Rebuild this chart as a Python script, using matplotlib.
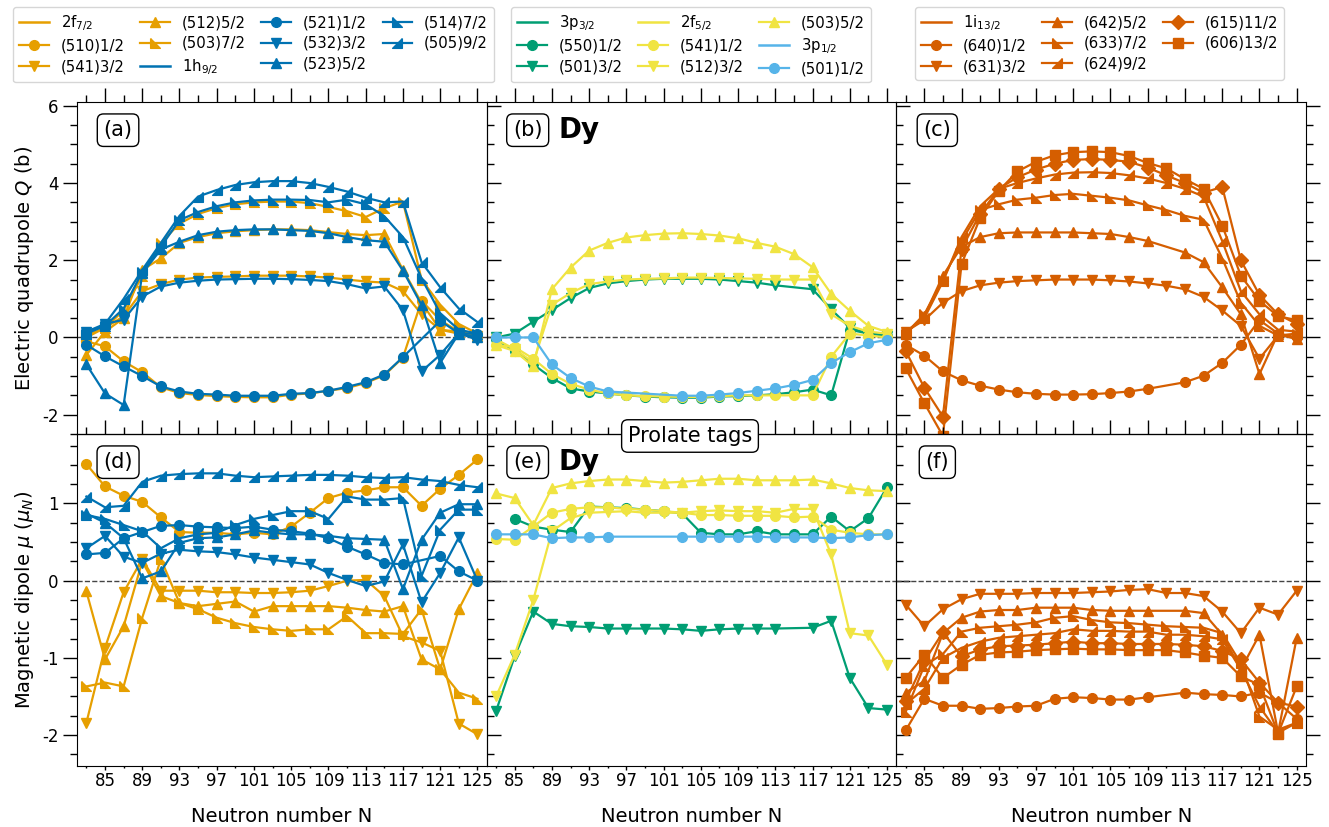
import numpy as np
import matplotlib
matplotlib.use("Agg")
import matplotlib.pyplot as plt
from matplotlib.lines import Line2D
from matplotlib.ticker import FixedLocator, MultipleLocator

plt.rcParams["font.family"] = "DejaVu Sans"
plt.rcParams["axes.unicode_minus"] = False

nan = np.nan
N = list(range(83, 126, 2))

# --- panel (a): quadrupole Q, 2f7/2 and 1h9/2 orbitals ---
q_510_12 = [-0.1, -0.23, -0.62, -0.90, -1.29, -1.44, -1.49, -1.52, -1.54, -1.55, -1.55, -1.48, -1.45, -1.38, -1.31, -1.18, -0.98, -0.52, 0.95, 0.45, 0.15, 0.05]
q_541_32 = [0.05, 0.25, 0.55, 1.2, 1.38, 1.5, 1.55, 1.57, 1.58, 1.6, 1.6, 1.6, 1.58, 1.55, 1.5, 1.45, 1.42, 1.2, 0.6, 0.2, 0.1, 0.05]
q_512_52 = [-0.45, 0.15, 0.5, 1.75, 2.05, 2.45, 2.6, 2.7, 2.75, 2.78, 2.8, 2.8, 2.78, 2.73, 2.68, 2.65, 2.68, 1.75, 0.9, 0.2, 0.15, 0.05]
q_503_72 = [0.0, 0.25, 0.7, 1.6, 2.45, 2.95, 3.2, 3.35, 3.45, 3.5, 3.52, 3.52, 3.48, 3.38, 3.27, 3.12, 3.35, 3.52, 1.5, 0.85, 0.35, 0.1]
q_521_12 = [-0.19, -0.49, -0.75, -1.0, -1.27, -1.4, -1.46, -1.48, -1.51, -1.51, -1.51, -1.46, -1.44, -1.38, -1.28, -1.16, -0.96, -0.51, nan, 0.43, 0.11, 0.09]
q_532_32 = [0.15, 0.35, 0.46, 1.06, 1.32, 1.42, 1.47, 1.5, 1.51, 1.52, 1.52, 1.51, 1.49, 1.46, 1.38, 1.27, 1.32, 0.71, -0.88, -0.45, 0.11, -0.06]
q_523_52 = [-0.7, -1.45, -1.75, 1.66, 2.28, 2.48, 2.65, 2.74, 2.78, 2.8, 2.8, 2.78, 2.76, 2.7, 2.6, 2.52, 2.48, 1.73, 0.84, -0.66, 0.1, 0.0]
q_514_72 = [0.1, 0.3, 0.75, 1.7, 2.35, 3.04, 3.25, 3.4, 3.5, 3.55, 3.57, 3.57, 3.56, 3.5, 3.57, 3.45, 3.14, 2.6, 1.53, 0.63, 0.2, 0.1]
q_505_92 = [0.1, 0.35, 1.0, 1.75, 2.45, 3.15, 3.65, 3.82, 3.95, 4.02, 4.05, 4.05, 4.0, 3.9, 3.78, 3.62, 3.5, 3.52, 1.95, 1.3, 0.75, 0.4]

# --- panel (b): 3p3/2, 2f5/2, 3p1/2 ---
q_550_12 = [-0.05, -0.35, -0.7, -1.05, -1.32, -1.4, -1.45, -1.5, -1.53, -1.55, -1.56, -1.56, -1.53, -1.52, -1.5, -1.47, -1.42, -1.35, -1.5, 0.2, 0.1, 0.05]
q_501_32 = [0.0, 0.1, 0.41, 0.71, 1.02, 1.28, 1.4, 1.46, 1.5, 1.52, 1.52, 1.52, 1.5, 1.46, 1.42, 1.35, nan, 1.25, 0.73, 0.25, 0.1, 0.05]
q_541_12 = [-0.2, -0.25, -0.55, -0.95, -1.2, -1.35, -1.45, -1.5, -1.52, -1.53, -1.54, -1.54, -1.52, -1.5, -1.5, -1.5, -1.5, -1.5, -0.5, 0.1, 0.05, 0.0]
q_512_32 = [-0.05, -0.3, -0.65, 0.85, 1.15, 1.38, 1.45, 1.5, 1.52, 1.53, 1.55, 1.55, 1.54, 1.53, 1.52, 1.5, 1.5, 1.5, 0.6, 0.3, 0.15, 0.1]
q_503_52 = [-0.2, -0.35, -0.75, 1.25, 1.81, 2.25, 2.45, 2.59, 2.65, 2.69, 2.7, 2.68, 2.64, 2.57, 2.45, 2.35, 2.16, 1.82, 1.13, 0.69, 0.3, 0.14]
q_501_12 = [0.0, 0.0, 0.0, -0.7, -1.05, -1.27, -1.4, nan, nan, nan, -1.51, -1.51, -1.48, -1.44, -1.38, -1.32, -1.23, -1.1, -0.66, -0.38, -0.15, -0.06]

# --- panel (c): 1i13/2 ---
q_640_12 = [-0.19, -0.47, -0.88, -1.11, -1.25, -1.35, -1.42, -1.46, -1.48, -1.48, -1.47, -1.44, -1.4, -1.33, nan, -1.16, -0.99, -0.66, -0.19, 0.45, 0.1, 0.0]
q_631_32 = [0.15, 0.45, 0.9, 1.2, 1.35, 1.42, 1.46, 1.48, 1.5, 1.5, 1.5, 1.48, 1.45, 1.4, 1.34, 1.25, 1.05, 0.7, 0.3, -0.55, 0.05, 0.0]
q_642_52 = [0.1, 0.55, 1.6, 2.35, 2.6, 2.7, 2.72, 2.72, 2.72, 2.72, 2.7, 2.68, 2.6, 2.5, nan, 2.2, 1.95, 1.3, 0.6, -0.95, 0.1, -0.05]
q_633_72 = [0.1, 0.6, 1.5, 2.5, 3.3, 3.45, 3.57, 3.62, 3.69, 3.72, 3.67, 3.62, 3.55, 3.42, 3.3, 3.15, 3.05, 2.05, 0.9, 0.3, 0.05, 0.1]
q_624_92 = [0.15, 0.5, 1.45, 2.6, 3.4, 3.85, 4.0, 4.12, 4.22, 4.27, 4.28, 4.26, 4.2, 4.12, 4.0, 3.85, 3.65, 2.5, 1.2, 0.6, 0.2, 0.15]
q_615_112 = [-0.35, -1.3, -2.05, 2.3, 3.2, 3.85, 4.15, 4.35, 4.5, 4.6, 4.62, 4.6, 4.55, 4.4, 4.2, 4.0, 3.75, 3.9, 2.0, 1.1, 0.6, 0.35]
q_606_132 = [-0.8, -1.7, -2.55, 1.9, 3.1, 3.8, 4.3, 4.55, 4.72, 4.8, 4.82, 4.8, 4.7, 4.52, 4.38, 4.1, 3.85, 2.9, 1.6, 0.95, 0.55, 0.45]

# --- panel (d): magnetic moment mu ---
m_510_12 = [1.51, 1.22, 1.10, 1.02, 0.82, 0.63, 0.62, 0.62, 0.6, 0.62, 0.6, 0.7, 0.88, 1.07, 1.14, 1.17, 1.21, 1.21, 0.97, 1.19, 1.37, 1.57]
m_541_32 = [-1.84, -0.87, -0.15, 0.28, -0.13, -0.13, -0.13, -0.15, -0.15, -0.16, -0.16, -0.15, -0.13, -0.07, 0.0, 0.01, -0.2, -0.72, -0.8, -0.91, -1.85, -1.99]
m_512_52 = [-0.14, -1.02, -0.59, 0.25, -0.2, -0.29, -0.33, -0.3, -0.27, -0.4, -0.33, -0.33, -0.33, -0.33, -0.35, -0.38, -0.4, -0.33, -1.02, -1.15, -0.37, 0.1]
m_503_72 = [-1.37, -1.32, -1.37, -0.48, 0.28, -0.29, -0.37, -0.48, -0.55, -0.6, -0.63, -0.65, -0.63, -0.63, -0.46, -0.68, -0.68, -0.69, -0.37, -1.15, -1.45, -1.53]
m_521_12 = [0.34, 0.36, 0.55, 0.63, 0.71, 0.72, 0.7, 0.69, 0.68, 0.7, 0.66, 0.64, 0.61, 0.55, 0.44, 0.34, 0.23, 0.21, nan, 0.32, 0.12, 0.0]
m_532_32 = [0.42, 0.58, 0.31, 0.23, 0.35, 0.4, 0.38, 0.37, 0.34, 0.3, 0.27, 0.24, 0.21, 0.1, 0.01, -0.07, -0.01, 0.47, -0.28, 0.1, 0.56, 0.0]
m_523_52 = [0.87, 0.75, 0.55, 0.03, 0.12, 0.49, 0.55, 0.56, 0.6, 0.65, 0.62, 0.6, 0.6, 0.58, 0.55, 0.54, 0.53, -0.11, 0.53, 0.88, 0.99, 0.99]
m_514_72 = [0.85, 0.8, 0.72, 0.64, 0.42, 0.55, 0.6, 0.62, 0.72, 0.8, 0.85, 0.9, 0.9, 0.8, 1.09, 1.05, 1.05, 1.07, 0.06, 0.66, 0.92, 0.92]
m_505_92 = [1.09, 0.95, 0.97, 1.28, 1.36, 1.38, 1.39, 1.39, 1.36, 1.34, 1.35, 1.36, 1.37, 1.37, 1.36, 1.34, 1.33, 1.34, 1.31, 1.29, 1.24, 1.21]

# --- panel (e) ---
m_550_12 = [nan, 0.8, 0.7, 0.66, 0.63, 0.96, 0.95, 0.94, 0.92, 0.9, 0.87, 0.62, 0.6, 0.6, 0.64, 0.6, 0.6, 0.6, 0.83, 0.64, 0.81, 1.21]
m_501_32 = [-1.69, -0.98, -0.4, -0.56, -0.59, -0.6, -0.62, -0.62, -0.62, -0.62, -0.63, -0.65, -0.63, -0.62, -0.62, -0.62, nan, -0.61, -0.52, -1.26, -1.65, -1.67]
m_541_12 = [0.54, 0.53, 0.7, 0.88, 0.93, 0.95, 0.95, 0.93, 0.92, 0.9, 0.88, 0.85, 0.85, 0.84, 0.84, 0.84, 0.82, 0.83, 0.66, 0.62, 0.6, 0.6]
m_512_32 = [-1.5, -0.96, -0.25, 0.64, 0.81, 0.88, 0.89, 0.9, 0.88, 0.88, 0.88, 0.9, 0.91, 0.9, 0.9, 0.88, 0.93, 0.93, 0.34, -0.68, -0.71, -1.09]
m_503_52 = [1.13, 1.07, 0.72, 1.2, 1.26, 1.29, 1.31, 1.31, 1.29, 1.27, 1.28, 1.3, 1.32, 1.32, 1.3, 1.3, 1.3, 1.31, 1.26, 1.2, 1.17, 1.16]
m_501_12 = [0.6, 0.6, 0.6, 0.55, 0.56, 0.56, 0.57, nan, nan, nan, 0.57, 0.57, 0.57, 0.57, 0.57, 0.56, 0.56, 0.56, 0.55, 0.56, 0.59, 0.6]

# --- panel (f) ---
m_640_12 = [-1.94, -1.53, -1.62, -1.62, -1.66, -1.65, -1.63, -1.62, -1.53, -1.51, -1.52, -1.54, -1.54, -1.51, nan, -1.45, -1.47, -1.48, -1.5, -1.45, -1.58, -1.79]
m_631_32 = [-0.31, -0.59, -0.37, -0.24, -0.17, -0.17, -0.17, -0.16, -0.16, -0.16, -0.15, -0.14, -0.12, -0.11, -0.16, -0.16, -0.2, -0.4, -0.68, -0.35, -0.44, -0.13]
m_642_52 = [-1.45, -1.3, -0.68, -0.48, -0.4, -0.38, -0.38, -0.35, -0.35, -0.35, -0.38, -0.39, -0.39, -0.39, nan, -0.39, -0.42, -0.7, -1.15, -0.7, -1.97, -0.74]
m_633_72 = [-1.7, -1.1, -0.95, -0.66, -0.61, -0.59, -0.57, -0.54, -0.48, -0.46, -0.51, -0.54, -0.55, -0.57, -0.59, -0.6, -0.61, -0.68, -1.07, -1.76, -1.93, -1.84]
m_624_92 = [-1.6, -1.4, -1.0, -0.87, -0.79, -0.74, -0.72, -0.7, -0.68, -0.63, -0.65, -0.65, -0.66, -0.66, -0.7, -0.7, -0.72, -0.76, -1.15, -1.63, -1.97, -1.84]
m_615_112 = [-1.56, -1.04, -0.67, -0.98, -0.89, -0.85, -0.84, -0.83, -0.81, -0.79, -0.81, -0.81, -0.82, -0.82, -0.82, -0.83, -0.85, -0.91, -1.02, -1.32, -1.58, -1.63]
m_606_132 = [-1.26, -0.96, -1.26, -1.09, -0.96, -0.93, -0.92, -0.9, -0.89, -0.88, -0.89, -0.89, -0.9, -0.9, -0.9, -0.93, -0.97, -1.0, -1.24, -1.35, -1.98, -1.37]

ORANGE, BLUE, GREEN = "#E69F00", "#0072B2", "#009E73"
YELLOW, SKY, VERM = "#F0E442", "#56B4E9", "#D55E00"

# right-angled triangles for the 7/2 and 9/2 orbitals
M72 = [(-1, 1), (-1, -1), (1, -1), (-1, 1)]
M92 = [(1, 1), (1, -1), (-1, -1), (1, 1)]

# (label, Q, mu, colour, marker) per column; None values = legend header line
columns = [
    [("2f$_{7/2}$", None, None, ORANGE, None),
     ("(510)1/2", q_510_12, m_510_12, ORANGE, "o"),
     ("(541)3/2", q_541_32, m_541_32, ORANGE, "v"),
     ("(512)5/2", q_512_52, m_512_52, ORANGE, "^"),
     ("(503)7/2", q_503_72, m_503_72, ORANGE, M72),
     ("1h$_{9/2}$", None, None, BLUE, None),
     ("(521)1/2", q_521_12, m_521_12, BLUE, "o"),
     ("(532)3/2", q_532_32, m_532_32, BLUE, "v"),
     ("(523)5/2", q_523_52, m_523_52, BLUE, "^"),
     ("(514)7/2", q_514_72, m_514_72, BLUE, M72),
     ("(505)9/2", q_505_92, m_505_92, BLUE, M92)],
    [("3p$_{3/2}$", None, None, GREEN, None),
     ("(550)1/2", q_550_12, m_550_12, GREEN, "o"),
     ("(501)3/2", q_501_32, m_501_32, GREEN, "v"),
     ("2f$_{5/2}$", None, None, YELLOW, None),
     ("(541)1/2", q_541_12, m_541_12, YELLOW, "o"),
     ("(512)3/2", q_512_32, m_512_32, YELLOW, "v"),
     ("(503)5/2", q_503_52, m_503_52, YELLOW, "^"),
     ("3p$_{1/2}$", None, None, SKY, None),
     ("(501)1/2", q_501_12, m_501_12, SKY, "o")],
    [("1i$_{13/2}$", None, None, VERM, None),
     ("(640)1/2", q_640_12, m_640_12, VERM, "o"),
     ("(631)3/2", q_631_32, m_631_32, VERM, "v"),
     ("(642)5/2", q_642_52, m_642_52, VERM, "^"),
     ("(633)7/2", q_633_72, m_633_72, VERM, M72),
     ("(624)9/2", q_624_92, m_624_92, VERM, M92),
     ("(615)11/2", q_615_112, m_615_112, VERM, "D"),
     ("(606)13/2", q_606_132, m_606_132, VERM, "s")],
]

fig, axes = plt.subplots(2, 3, figsize=(13.29, 8.27), dpi=100)
fig.subplots_adjust(left=0.058, right=0.9827, top=0.8767, bottom=0.0738,
                    wspace=0, hspace=0)

x = np.array(N, dtype=float)
legend_pos = [13, 511, 915]
ncols = [4, 3, 3]

for col, series in enumerate(columns):
    handles = []
    for label, q, mu, color, marker in series:
        if q is None:
            handles.append(Line2D([], [], color=color, lw=1.8, label=label))
            continue
        for row, vals in enumerate([q, mu]):
            y = np.array(vals, dtype=float)
            ok = ~np.isnan(y)
            axes[row, col].plot(x[ok], y[ok], color=color, marker=marker,
                                ms=7, lw=1.6)
        handles.append(Line2D([], [], color=color, marker=marker, ms=7,
                              lw=1.6, label=label))
    fig.legend(handles=handles, ncol=ncols[col], loc="upper left",
               bbox_to_anchor=(legend_pos[col] / 1329, 1 - 7 / 827),
               borderaxespad=0, fontsize=10.7, columnspacing=1.05,
               handlelength=2.0, labelspacing=0.38)

xmaj = list(range(85, 126, 4))
xmin = list(range(83, 126, 2))
letters = ["(a)", "(b)", "(c)", "(d)", "(e)", "(f)"]
for i, ax in enumerate(axes.flat):
    row, col = divmod(i, 3)
    ax.set_facecolor("none")
    ax.set_xlim(82, 126)
    ax.xaxis.set_major_locator(FixedLocator(xmaj))
    ax.xaxis.set_minor_locator(FixedLocator(xmin))
    if row == 0:
        ax.set_ylim(-2.5, 6.1)
        ax.yaxis.set_major_locator(MultipleLocator(2))
        ax.yaxis.set_minor_locator(MultipleLocator(0.5))
    else:
        ax.set_ylim(-2.4, 1.9)
        ax.yaxis.set_major_locator(MultipleLocator(1))
        ax.yaxis.set_minor_locator(MultipleLocator(0.25))
    ax.axhline(0, color="#444444", ls="--", lw=1.0, zorder=0)

    # y ticks: outward; the right ticks of a panel show inside its neighbour
    ax.tick_params(axis="y", which="both", direction="out", right=True,
                   left=(col == 0), labelleft=(col == 0), labelsize=12)
    ax.tick_params(axis="y", which="major", length=10, width=1)
    ax.tick_params(axis="y", which="minor", length=5, width=1)

    if row == 0:
        ax.tick_params(axis="x", which="both", direction="out", top=True,
                       bottom=False, labelbottom=False)
        ax.tick_params(axis="x", which="major", length=10, width=1)
        ax.tick_params(axis="x", which="minor", length=5, width=1)
    else:
        ax.tick_params(axis="x", which="both", direction="out", top=False,
                       bottom=True, labelsize=12, pad=1.5)
        ax.tick_params(axis="x", which="major", length=3, width=1)
        ax.tick_params(axis="x", which="minor", length=1.5, width=1)
        ax.set_xlabel("Neutron number N", fontsize=14, labelpad=12)
        # ticks along the shared boundary, pointing up into the top panel
        sec = ax.secondary_xaxis("top")
        sec.xaxis.set_major_locator(FixedLocator(xmaj))
        sec.xaxis.set_minor_locator(FixedLocator(xmin))
        sec.tick_params(axis="x", which="both", direction="out",
                        labeltop=False)
        sec.tick_params(axis="x", which="major", length=10, width=1)
        sec.tick_params(axis="x", which="minor", length=5, width=1)

    ax.text(0.1, 0.915, letters[i], transform=ax.transAxes, fontsize=15,
            ha="center", va="center",
            bbox=dict(boxstyle="round,pad=0.3", fc="white", ec="black"))
    if col == 1:
        ax.text(0.174, 0.915, "Dy", transform=ax.transAxes, fontsize=20,
                fontweight="bold", ha="left", va="center")

axes[0, 0].set_ylabel("Electric quadrupole $Q$ (b)", fontsize=14)
axes[1, 0].set_ylabel(r"Magnetic dipole $\mu$ ($\mu_N$)", fontsize=14)

fig.text(690 / 1329, 1 - 436 / 827, "Prolate tags", ha="center", va="center",
         fontsize=15,
         bbox=dict(boxstyle="round,pad=0.3", fc="white", ec="black"))

fig.savefig("out.png", dpi=100)
